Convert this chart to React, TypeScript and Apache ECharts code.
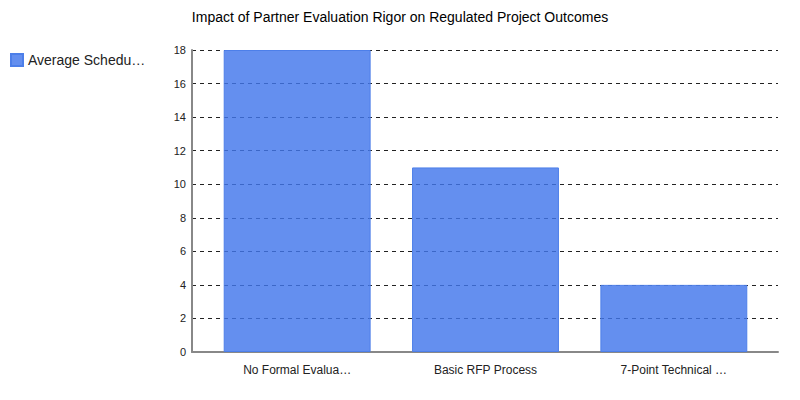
import { useEffect, useRef } from 'react';
import * as echarts from 'echarts';

const categories = ['No Formal Evaluation', 'Basic RFP Process', '7-Point Technical Evaluation'];
const seriesName = 'Average Schedule Delay (Weeks)';
const delayWeeks = [18, 11, 4];
const yTicks = { min: 0, max: 18, interval: 2 };

const FONT = 'Liberation Sans, Arial, sans-serif';

export default function App() {
  const chartRef = useRef<HTMLDivElement>(null);

  useEffect(() => {
    if (!chartRef.current) return;
    const chart = echarts.init(chartRef.current, undefined, { renderer: 'svg' });

    const option: echarts.EChartsOption = {
      animation: false,
      textStyle: { fontFamily: FONT },
      title: {
        text: 'Impact of Partner Evaluation Rigor on Regulated Project Outcomes',
        left: 'center',
        top: 5,
        textStyle: { fontSize: 14, fontWeight: 'normal', color: '#000', fontFamily: FONT },
      },
      legend: {
        orient: 'vertical',
        left: 5,
        top: 48,
        icon: 'rect',
        itemWidth: 12,
        itemHeight: 12,
        itemGap: 6,
        textStyle: {
          fontSize: 14,
          color: '#222',
          fontFamily: FONT,
          width: 121,
          overflow: 'truncate',
          ellipsis: '…',
        },
      },
      grid: [
        { left: 192, right: 22, top: 50, bottom: 48 },
        { left: 203, right: 32, top: 50, bottom: 48 },
      ],
      xAxis: [
        {
          type: 'category',
          gridIndex: 0,
          data: [''],
          axisLine: { lineStyle: { color: '#888', width: 2 } },
          axisTick: { show: false },
          axisLabel: { show: false },
        },
        {
          type: 'category',
          gridIndex: 1,
          data: categories,
          axisLine: { show: false },
          axisTick: { show: false },
          axisLabel: {
            interval: 0,
            color: '#222',
            fontSize: 12,
            margin: 12,
            fontFamily: FONT,
            width: 112,
            overflow: 'truncate',
            ellipsis: '…',
          },
        },
      ],
      yAxis: [
        {
          type: 'value',
          gridIndex: 0,
          min: yTicks.min,
          max: yTicks.max,
          interval: yTicks.interval,
          axisLine: { show: true, lineStyle: { color: '#888', width: 2 } },
          axisTick: { show: false },
          axisLabel: { color: '#222', fontSize: 11, margin: 6, fontFamily: FONT },
          splitLine: { lineStyle: { color: '#222', type: [4, 4], width: 1 } },
        },
        {
          type: 'value',
          gridIndex: 1,
          min: yTicks.min,
          max: yTicks.max,
          interval: yTicks.interval,
          show: false,
          splitLine: { show: false },
        },
      ],
      series: [
        {
          name: seriesName,
          type: 'bar',
          xAxisIndex: 1,
          yAxisIndex: 1,
          data: delayWeeks,
          barCategoryGap: '22%',
          itemStyle: {
            color: 'rgba(66,118,235,0.82)',
            borderColor: '#4d7fe9',
            borderWidth: 1,
          },
        },
      ],
    };

    chart.setOption(option);
    return () => chart.dispose();
  }, []);

  return (
    <div
      ref={chartRef}
      style={{ position: 'absolute', left: 0, top: 0, width: 800, height: 400 }}
    />
  );
}
